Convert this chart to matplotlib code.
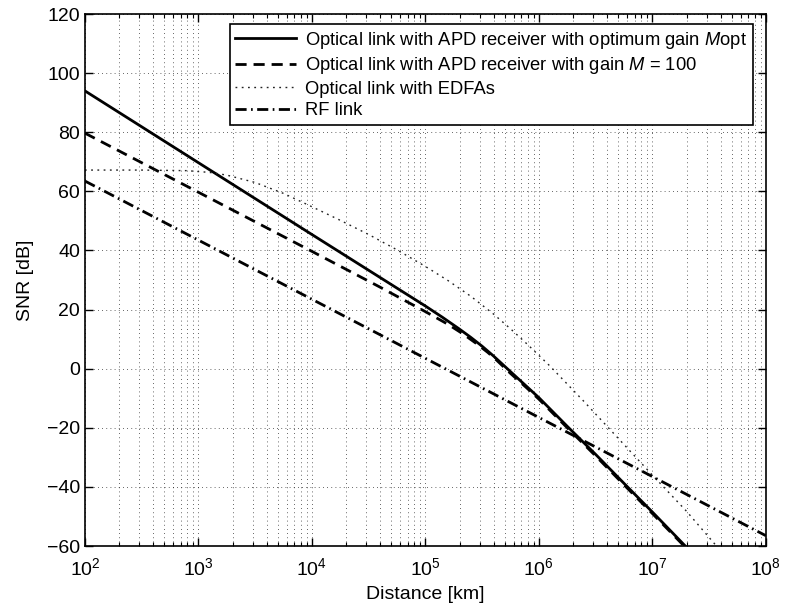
import matplotlib
matplotlib.use("Agg")
import matplotlib.pyplot as plt
import numpy as np
from matplotlib.ticker import LogLocator, NullFormatter

plt.rcParams['font.family'] = ['Liberation Sans', 'DejaVu Sans']
plt.rcParams['mathtext.fontset'] = 'custom'
plt.rcParams['mathtext.rm'] = 'Liberation Sans'
plt.rcParams['mathtext.it'] = 'Liberation Sans:italic'
plt.rcParams['mathtext.bf'] = 'Liberation Sans:bold'

# ---- data (log10 distance in km, SNR in dB) ----
apd_opt_logd = [2.0, 3.0, 4.0, 4.5, 5.0, 5.15, 5.3, 5.4, 5.5, 5.6, 5.75, 6.0, 6.25, 6.5, 6.75, 7.0, 7.29]
apd_opt_snr = [94.0, 69.7, 45.4, 33.3, 21.2, 17.4, 13.4, 10.6, 7.6, 4.3, -1.0, -9.8, -19.5, -29.0, -38.8, -48.5, -60.0]

apd_100_logd = [2.0, 3.0, 4.0, 4.6, 5.0, 5.2, 5.33, 5.45, 5.55, 5.63, 5.75, 5.89, 6.0, 6.25, 6.5, 6.75, 7.0, 7.28]
apd_100_snr = [79.7, 59.7, 39.7, 27.6, 19.3, 15.0, 11.8, 8.5, 5.5, 2.8, -1.6, -6.4, -10.3, -20.0, -29.5, -39.3, -49.0, -60.0]

edfa_logd = [2.0, 2.5, 2.9, 3.1, 3.25, 3.5, 3.75, 4.0, 4.25, 4.5, 4.75, 5.0, 5.2, 5.4, 5.6, 5.75, 5.9, 6.1, 6.4, 6.7, 7.0, 7.3, 7.565]
edfa_snr = [67.2, 67.2, 67.0, 66.4, 65.5, 63.0, 59.3, 54.8, 50.2, 45.4, 40.2, 34.6, 29.8, 24.5, 18.5, 13.5, 8.2, 0.8, -11.2, -23.6, -36.0, -48.2, -60.0]

rf_logd = [2.0, 3.0, 4.0, 5.0, 6.0, 7.0, 8.0]
rf_snr = [63.5, 43.5, 23.5, 3.5, -16.5, -36.5, -56.5]

labels = [r"Optical link with APD receiver with optimum gain $\mathit{M}$opt",
          r"Optical link with APD receiver with gain $\mathit{M}$ = 100",
          "Optical link with EDFAs",
          "RF link"]

x_ticks = [1e2, 1e3, 1e4, 1e5, 1e6, 1e7, 1e8]
x_ticklabels = [r"$10^{2}$", r"$10^{3}$", r"$10^{4}$", r"$10^{5}$", r"$10^{6}$", r"$10^{7}$", r"$10^{8}$"]
y_ticks = [-60, -40, -20, 0, 20, 40, 60, 80, 100, 120]

fig = plt.figure(figsize=(7.86, 6.09), dpi=100)
ax = fig.add_axes([0.108, 0.1034, 0.8664, 0.8736])

def d(v):
    return [10 ** t for t in v]

ax.plot(d(apd_opt_logd), apd_opt_snr, color='black', lw=2.0, ls='-', label=labels[0])
ax.plot(d(apd_100_logd), apd_100_snr, color='black', lw=2.0, ls=(0, (4, 2.5)), label=labels[1])
ax.plot(d(edfa_logd), edfa_snr, color='#222222', lw=1.0, ls=(0, (1.3, 3.2)), label=labels[2])
ax.plot(d(rf_logd), rf_snr, color='black', lw=2.0, ls=(0, (4, 1.6, 0.6, 1.6)), label=labels[3])

ax.set_xscale('log')
ax.set_xlim(1e2, 1e8)
ax.set_ylim(-60, 120)
ax.set_xticks(x_ticks)
ax.set_xticklabels(x_ticklabels)
ax.xaxis.set_minor_locator(LogLocator(base=10, subs=np.arange(2, 10), numticks=20))
ax.xaxis.set_minor_formatter(NullFormatter())
ax.set_yticks(y_ticks)

ax.grid(True, which='major', axis='both', color='black', ls=(0, (1, 4)), lw=0.6, alpha=0.8)
ax.grid(True, which='minor', axis='x', color='black', ls=(0, (1, 4)), lw=0.6, alpha=0.8)

ax.tick_params(which='both', direction='in', top=True, right=True, labelsize=14)
ax.tick_params(which='major', length=6, width=1)
ax.tick_params(which='minor', length=3, width=0.8)
ax.tick_params(axis='x', pad=8)
for s in ax.spines.values():
    s.set_linewidth(1.2)

ax.set_xlabel("Distance [km]", fontsize=14, labelpad=5)
ax.set_ylabel("SNR [dB]", fontsize=14, labelpad=9)

leg = ax.legend(loc='upper right', bbox_to_anchor=(0.9805, 0.981), fontsize=13.2,
                frameon=True, fancybox=False, framealpha=1, edgecolor='black',
                borderpad=0.3, labelspacing=0.25, handlelength=3.3, handletextpad=0.5,
                borderaxespad=0)
leg.get_frame().set_linewidth(1.2)

fig.savefig("out.png", dpi=100)
